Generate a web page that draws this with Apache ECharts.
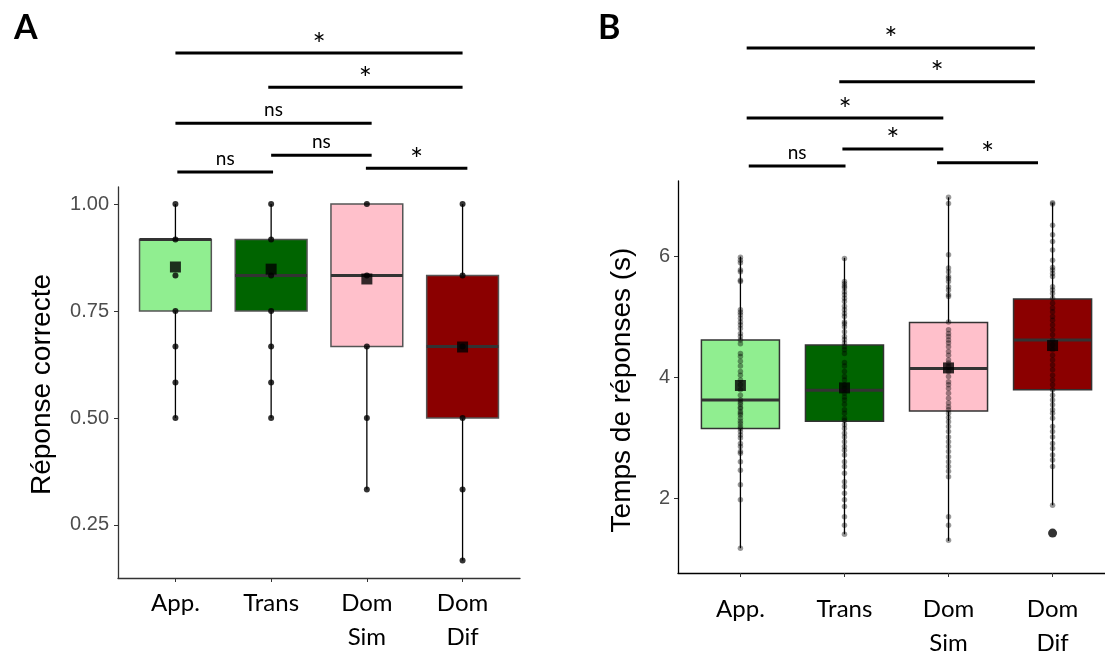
<!DOCTYPE html>
<html><head><meta charset="utf-8">
<script src="https://cdn.jsdelivr.net/npm/echarts@6/dist/echarts.min.js"></script>
<style>html,body{margin:0;padding:0;background:#fff}#c{width:1105px;height:658px}</style>
</head><body><div id="c"></div>
<script>
// ---------- shared ----------
const categories = ['App.', 'Trans', 'Dom\nSim', 'Dom\nDif'];
const boxColors = ['#90EE90', '#006400', '#FFC0CB', '#8B0000'];

// ---------- Panel A : Réponse correcte ----------
const accWhiskerLow = [0.5, 0.5, 0.333, 0.167];
const accQ1 = [0.75, 0.75, 0.667, 0.5];
const accMedian = [0.917, 0.833, 0.833, 0.667];
const accQ3 = [0.917, 0.917, 1.0, 0.833];
const accWhiskerHigh = [1.0, 1.0, 1.0, 1.0];
const accMean = [0.853, 0.848, 0.825, 0.666];
const accPointsApp = [1.0, 0.917, 0.833, 0.75, 0.667, 0.583, 0.5];
const accPointsTrans = [1.0, 0.917, 0.833, 0.75, 0.667, 0.583, 0.5];
const accPointsDomSim = [1.0, 0.833, 0.667, 0.5, 0.333];
const accPointsDomDif = [1.0, 0.833, 0.667, 0.5, 0.333, 0.167];
const accTicks = [0.25, 0.5, 0.75, 1.0];
// significance brackets: from / to (category position), height (axis units), label
const sigAFrom = [1.0, 1.97, 1.0, 2.0, 1.02, 2.99];
const sigATo = [4.0, 4.0, 3.05, 3.05, 2.02, 4.05];
const sigAHeight = [1.353, 1.273, 1.189, 1.114, 1.075, 1.084];
const sigALabel = ['*', '*', 'ns', 'ns', 'ns', '*'];

// ---------- Panel B : Temps de réponses (s) ----------
const rtWhiskerLow = [1.17, 1.40, 1.29, 1.88];
const rtQ1 = [3.15, 3.27, 3.44, 3.79];
const rtMedian = [3.62, 3.78, 4.14, 4.61];
const rtQ3 = [4.61, 4.53, 4.90, 5.29];
const rtWhiskerHigh = [5.99, 5.97, 6.97, 6.88];
const rtMean = [3.86, 3.82, 4.15, 4.52];
const rtOutliers = [[4, 1.42]];
const rtPointsApp = [5.98, 5.93, 5.89, 5.77, 5.74, 5.60, 5.58, 5.11, 5.07, 5.03, 4.97, 4.91, 4.86, 4.80,
  4.72, 4.67, 4.61, 4.55, 4.39, 4.34, 4.26, 4.18, 4.09, 4.03, 3.95, 3.87, 3.79, 3.70, 3.62, 3.58, 3.55,
  3.50, 3.48, 3.43, 3.40, 3.37, 3.32, 3.27, 3.23, 3.18, 3.15, 3.10, 3.04, 2.99, 2.90, 2.85, 2.77, 2.74,
  2.60, 2.46, 2.22, 1.97, 1.17];
const rtPointsTrans = [5.96, 5.58, 5.54, 5.50, 5.47, 5.41, 5.36, 5.30, 5.25, 5.17, 5.11, 5.05, 5.00,
  4.91, 4.88, 4.83, 4.75, 4.67, 4.62, 4.56, 4.50, 4.45, 4.39, 4.24, 4.18, 4.09, 4.01, 3.95, 3.87, 3.81,
  3.73, 3.67, 3.62, 3.55, 3.46, 3.40, 3.32, 3.28, 3.21, 3.15, 3.07, 3.01, 2.93, 2.85, 2.79, 2.71, 2.60,
  2.52, 2.41, 2.27, 2.19, 2.08, 1.97, 1.86, 1.69, 1.55, 1.40];
const rtPointsDomSim = [6.97, 6.87, 6.02, 5.80, 5.74, 5.66, 5.63, 5.58, 5.49, 5.44, 5.36, 5.33, 4.91,
  4.78, 4.72, 4.67, 4.61, 4.56, 4.50, 4.42, 4.36, 4.28, 4.23, 4.17, 4.09, 4.01, 3.92, 3.87, 3.81, 3.73,
  3.65, 3.57, 3.51, 3.46, 3.40, 3.33, 3.26, 3.18, 3.10, 3.01, 2.93, 2.85, 2.77, 2.68, 2.60, 2.52, 2.44,
  2.35, 1.69, 1.55, 1.30];
const rtPointsDomDif = [6.88, 6.86, 6.51, 6.35, 6.24, 6.10, 5.93, 5.81, 5.77, 5.71, 5.66, 5.49, 5.44,
  5.38, 5.30, 5.22, 5.14, 5.08, 5.00, 4.94, 4.86, 4.78, 4.70, 4.61, 4.53, 4.45, 4.36, 4.28, 4.20, 4.12,
  4.03, 3.95, 3.87, 3.79, 3.70, 3.62, 3.54, 3.46, 3.40, 3.32, 3.18, 3.10, 3.01, 2.90, 2.82, 2.71, 2.63,
  2.52, 1.88];
const rtTicks = [2, 4, 6];
const sigBFrom = [1.06, 1.95, 1.06, 1.98, 1.08, 2.89];
const sigBTo = [3.83, 3.83, 2.95, 2.95, 2.01, 3.86];
const sigBHeight = [9.44, 8.88, 8.28, 7.77, 7.49, 7.54];
const sigBLabel = ['*', '*', '*', '*', 'ns', '*'];

// ---------- helpers ----------
function boxData(lo, q1, med, q3, hi) {
  return categories.map((c, i) => [i + 1, lo[i], q1[i], med[i], q3[i], hi[i]]);
}
function pointData(groups) {
  const out = [];
  groups.forEach((g, i) => g.forEach(v => out.push([i + 1, v])));
  return out;
}
function meanData(m) { return m.map((v, i) => [i + 1, v]); }
function sigData(from, to, h) { return from.map((f, i) => [f, to[i], h[i]]); }

function boxSeries(idx, data, borderColor) {
  return {
    type: 'custom', xAxisIndex: idx, yAxisIndex: idx, z: 1,
    data: data,
    renderItem: function (params, api) {
      const x = api.value(0);
      const pLo = api.coord([x, api.value(1)]);
      const pQ1 = api.coord([x, api.value(2)]);
      const pMed = api.coord([x, api.value(3)]);
      const pQ3 = api.coord([x, api.value(4)]);
      const pHi = api.coord([x, api.value(5)]);
      const half = api.size([0.75, 0])[0] / 2;
      return {
        type: 'group',
        children: [
          { type: 'line', shape: { x1: pLo[0], y1: pLo[1], x2: pQ1[0], y2: pQ1[1] }, style: { stroke: '#000', lineWidth: 1.3 } },
          { type: 'line', shape: { x1: pQ3[0], y1: pQ3[1], x2: pHi[0], y2: pHi[1] }, style: { stroke: '#000', lineWidth: 1.3 } },
          { type: 'rect', shape: { x: pQ3[0] - half, y: pQ3[1], width: 2 * half, height: pQ1[1] - pQ3[1] },
            style: { fill: boxColors[params.dataIndex], stroke: borderColor, lineWidth: 1.5 } },
          { type: 'line', shape: { x1: pMed[0] - half, y1: pMed[1], x2: pMed[0] + half, y2: pMed[1] },
            style: { stroke: '#333', lineWidth: 3 } }
        ]
      };
    }
  };
}
function sigSeries(idx, data, labels) {
  return {
    type: 'custom', xAxisIndex: idx, yAxisIndex: idx, z: 5, clip: false,
    data: data,
    renderItem: function (params, api) {
      const y = api.value(2);
      const a = api.coord([api.value(0), y]);
      const b = api.coord([api.value(1), y]);
      const lab = labels[params.dataIndex];
      const star = lab === '*';
      return {
        type: 'group',
        children: [
          { type: 'line', shape: { x1: a[0], y1: a[1], x2: b[0], y2: b[1] }, style: { stroke: '#000', lineWidth: 3 } },
          { type: 'text', style: {
              text: lab, x: (a[0] + b[0]) / 2, y: a[1] + (star ? 7 : -4),
              align: 'center', verticalAlign: 'bottom',
              fontFamily: 'Lato', fontSize: star ? 31 : 19, fill: '#000' } }
        ]
      };
    }
  };
}

const xLabelStyle = {
  fontFamily: 'Lato', fontSize: 24, color: '#000', lineHeight: 34
};

const chart = echarts.init(document.getElementById('c'), null, { renderer: 'canvas' });
chart.setOption({
  animation: false,
  backgroundColor: '#fff',
  title: [
    { text: 'A', left: 9, top: 6, textStyle: { fontFamily: 'Lato', fontWeight: 'bold', fontSize: 34, color: '#000' } },
    { text: 'B', left: 593, top: 6, textStyle: { fontFamily: 'Lato', fontWeight: 'bold', fontSize: 34, color: '#000' } }
  ],
  grid: [
    { left: 118, top: 187, width: 402, height: 391, outerBoundsMode: 'none' },
    { left: 678, top: 181, width: 437, height: 392, outerBoundsMode: 'none' }
  ],
  xAxis: [
    { type: 'value', gridIndex: 0, min: 0.4, max: 4.6, splitLine: { show: false },
      axisLine: { lineStyle: { color: '#333', width: 1.3 } },
      axisTick: { customValues: [1, 2, 3, 4], length: 4, lineStyle: { color: '#333' } },
      axisLabel: { customValues: [1, 2, 3, 4], margin: 8, formatter: v => categories[Math.round(v) - 1], ...xLabelStyle } },
    { type: 'value', gridIndex: 1, min: 0.4, max: 4.6, splitLine: { show: false },
      axisLine: { lineStyle: { color: '#000', width: 1.3 } },
      axisTick: { customValues: [1, 2, 3, 4], length: 4, lineStyle: { color: '#333' } },
      axisLabel: { customValues: [1, 2, 3, 4], margin: 19, formatter: v => categories[Math.round(v) - 1], ...xLabelStyle } }
  ],
  yAxis: [
    { type: 'value', gridIndex: 0, min: 0.126, max: 1.04, splitLine: { show: false },
      name: 'Réponse correcte', nameLocation: 'middle', nameGap: 62,
      nameTextStyle: { fontFamily: 'Liberation Sans', fontSize: 28, color: '#000', padding: [0, 4, 0, 0] },
      axisLine: { show: true, lineStyle: { color: '#333', width: 1.3 } },
      axisTick: { show: true, customValues: accTicks, length: 4, lineStyle: { color: '#333' } },
      axisLabel: { customValues: accTicks, margin: 9, formatter: v => v.toFixed(2),
        fontFamily: 'Liberation Sans', fontSize: 20, color: '#4d4d4d' } },
    { type: 'value', gridIndex: 1, min: 0.76, max: 7.24, splitLine: { show: false },
      name: 'Temps de réponses (s)', nameLocation: 'middle', nameGap: 42,
      nameTextStyle: { fontFamily: 'Liberation Sans', fontSize: 28, color: '#000', padding: [0, 26, 0, 0] },
      axisLine: { show: true, lineStyle: { color: '#000', width: 1.3 } },
      axisTick: { show: true, customValues: rtTicks, length: 4, lineStyle: { color: '#333' } },
      axisLabel: { customValues: rtTicks, margin: 8, formatter: v => String(v),
        fontFamily: 'Liberation Sans', fontSize: 20, color: '#4d4d4d' } }
  ],
  series: [
    boxSeries(0, boxData(accWhiskerLow, accQ1, accMedian, accQ3, accWhiskerHigh), '#555'),
    { type: 'scatter', xAxisIndex: 0, yAxisIndex: 0, z: 2, symbolSize: 6,
      itemStyle: { color: '#000' },
      data: pointData([accPointsApp, accPointsTrans, accPointsDomSim, accPointsDomDif]) },
    { type: 'scatter', xAxisIndex: 0, yAxisIndex: 0, z: 3, symbol: 'rect', symbolSize: 11,
      itemStyle: { color: '#000' }, data: meanData(accMean) },
    sigSeries(0, sigData(sigAFrom, sigATo, sigAHeight), sigALabel),

    boxSeries(1, boxData(rtWhiskerLow, rtQ1, rtMedian, rtQ3, rtWhiskerHigh), '#333'),
    { type: 'scatter', xAxisIndex: 1, yAxisIndex: 1, z: 2, symbolSize: 5.5,
      itemStyle: { color: 'rgba(0,0,0,0.5)' },
      data: pointData([rtPointsApp, rtPointsTrans, rtPointsDomSim, rtPointsDomDif]) },
    { type: 'scatter', xAxisIndex: 1, yAxisIndex: 1, z: 2, symbolSize: 9,
      itemStyle: { color: '#000' }, data: rtOutliers },
    { type: 'scatter', xAxisIndex: 1, yAxisIndex: 1, z: 3, symbol: 'rect', symbolSize: 11,
      itemStyle: { color: '#000' }, data: meanData(rtMean) },
    sigSeries(1, sigData(sigBFrom, sigBTo, sigBHeight), sigBLabel)
  ]
});
</script>
</body></html>
